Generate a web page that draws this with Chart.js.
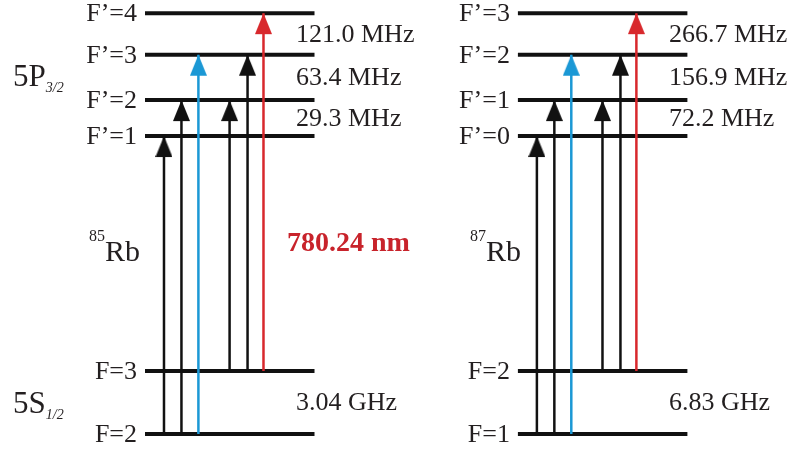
<!DOCTYPE html>
<html>
<head>
<meta charset="utf-8">
<script src="https://cdn.jsdelivr.net/npm/chart.js@4.4.0/dist/chart.umd.min.js"></script>
<style>
    html, body { margin: 0; padding: 0; background: #fff; }
    #wrap { width: 798px; height: 449px; position: relative; }
</style>
</head>
<body>
<div id="wrap"><canvas id="levels"></canvas></div>
<script>
// Rb D2 line hyperfine levels, schematic (not to scale)
const isotopes = ['85', '87'];
const levelNames85 = ['F=2', 'F=3', 'F’=1', 'F’=2', 'F’=3', 'F’=4'];
const levelNames87 = ['F=1', 'F=2', 'F’=0', 'F’=1', 'F’=2', 'F’=3'];
const levelHeights = [0, 1, 4.73, 5.30, 6.02, 6.68];   // diagram units
const splittings85 = ['3.04 GHz', '29.3 MHz', '63.4 MHz', '121.0 MHz'];
const splittings87 = ['6.83 GHz', '72.2 MHz', '156.9 MHz', '266.7 MHz'];
const splittingPairs = [[0, 1], [2, 3], [3, 4], [4, 5]];
// [lower level, upper level]
const transitions = [[0, 2], [0, 3], [0, 4], [1, 3], [1, 4], [1, 5]];
const wavelength = '780.24 nm';

// layout (diagram units)
const panelStart = [0, 22.0];
const levelWidth = 10;
const transitionX = [1.12, 2.15, 3.15, 4.99, 6.05, 6.99];
const transitionColors = ['#111', '#111', '#1b98d5', '#111', '#111', '#d8282c'];
const TEXT = '#231f20';
const SERIF = '"Liberation Serif", "Times New Roman", serif';

function makeHead(color) {
    // tip sits at the canvas centre, so the point lands on the level
    const c = document.createElement('canvas');
    c.width = 17;
    c.height = 44;
    const g = c.getContext('2d');
    g.fillStyle = color;
    g.beginPath();
    g.moveTo(8.5, 22);
    g.lineTo(17, 43);
    g.lineTo(0, 43);
    g.closePath();
    g.fill();
    return c;
}

const datasets = [];
isotopes.forEach((iso, p) => {
    const x0 = panelStart[p];
    transitions.forEach(([lo, hi], i) => {
        const head = makeHead(transitionColors[i]);
        datasets.push({
            data: [{ x: x0 + transitionX[i], y: levelHeights[lo] }, { x: x0 + transitionX[i], y: levelHeights[hi] }],
            borderColor: transitionColors[i],
            borderWidth: 2.5,
            pointRadius: ctx => ctx.dataIndex === 1 ? 10 : 0,
            pointStyle: ctx => ctx.dataIndex === 1 ? head : 'circle',
            order: 0,
            clip: false
        });
    });
    levelHeights.forEach(h => {
        datasets.push({
            data: [{ x: x0, y: h }, { x: x0 + levelWidth, y: h }],
            borderColor: '#111',
            borderWidth: 4,
            borderCapStyle: 'butt',
            pointRadius: 0,
            order: 1,
            clip: false
        });
    });
});

const labelPlugin = {
    id: 'levelLabels',
    afterDatasetsDraw(chart) {
        const { ctx, scales: { x, y } } = chart;
        const px = v => x.getPixelForValue(v);
        const py = v => y.getPixelForValue(v);
        ctx.save();
        ctx.fillStyle = TEXT;

        isotopes.forEach((iso, p) => {
            const x0 = panelStart[p];
            const names = p === 0 ? levelNames85 : levelNames87;
            const gaps = p === 0 ? splittings85 : splittings87;

            ctx.font = '26px ' + SERIF;
            ctx.textBaseline = 'middle';
            ctx.textAlign = 'right';
            names.forEach((n, i) => ctx.fillText(n, px(x0) - 8, py(levelHeights[i]) + 1));

            ctx.textAlign = 'left';
            gaps.forEach((g, i) => {
                const [a, b] = splittingPairs[i];
                const mid = (py(levelHeights[a]) + py(levelHeights[b])) / 2;
                ctx.fillText(g, px(x0) + 151, mid + 1);
            });

            // isotope label with mass-number superscript
            ctx.textBaseline = 'alphabetic';
            const rbX = px(x0) + (p === 0 ? -40 : -32);
            const rbY = py(2.75);
            ctx.font = '30px ' + SERIF;
            ctx.fillText('Rb', rbX, rbY);
            ctx.font = '16px ' + SERIF;
            ctx.textAlign = 'right';
            ctx.fillText(iso, rbX, rbY - 20);
            ctx.textAlign = 'left';
        });

        // term symbols
        const termX = px(panelStart[0]) - 132;
        const terms = [['5P', '3/2', 86], ['5S', '1/2', 413]];
        terms.forEach(([main, sub, base]) => {
            ctx.font = '31px ' + SERIF;
            ctx.textBaseline = 'alphabetic';
            ctx.fillText(main, termX, base);
            const w = ctx.measureText(main).width;
            ctx.font = 'italic 14px ' + SERIF;
            ctx.fillText(sub, termX + w, base + 6);
        });

        ctx.font = 'bold 28px ' + SERIF;
        ctx.fillStyle = '#c8232b';
        ctx.textBaseline = 'middle';
        ctx.fillText(wavelength, px(panelStart[0]) + 142, py(3.02));
        ctx.restore();
    }
};

new Chart(document.getElementById('levels'), {
    type: 'line',
    data: { datasets },
    options: {
        responsive: true,
        maintainAspectRatio: false,
        animation: false,
        layout: { padding: 0, autoPadding: false },
        plugins: { legend: { display: false }, tooltip: { enabled: false } },
        scales: {
            x: { type: 'linear', min: -8.555, max: 38.525, display: false },
            y: { type: 'linear', min: -0.238, max: 6.889, display: false }
        }
    },
    plugins: [labelPlugin]
});
</script>
</body>
</html>
